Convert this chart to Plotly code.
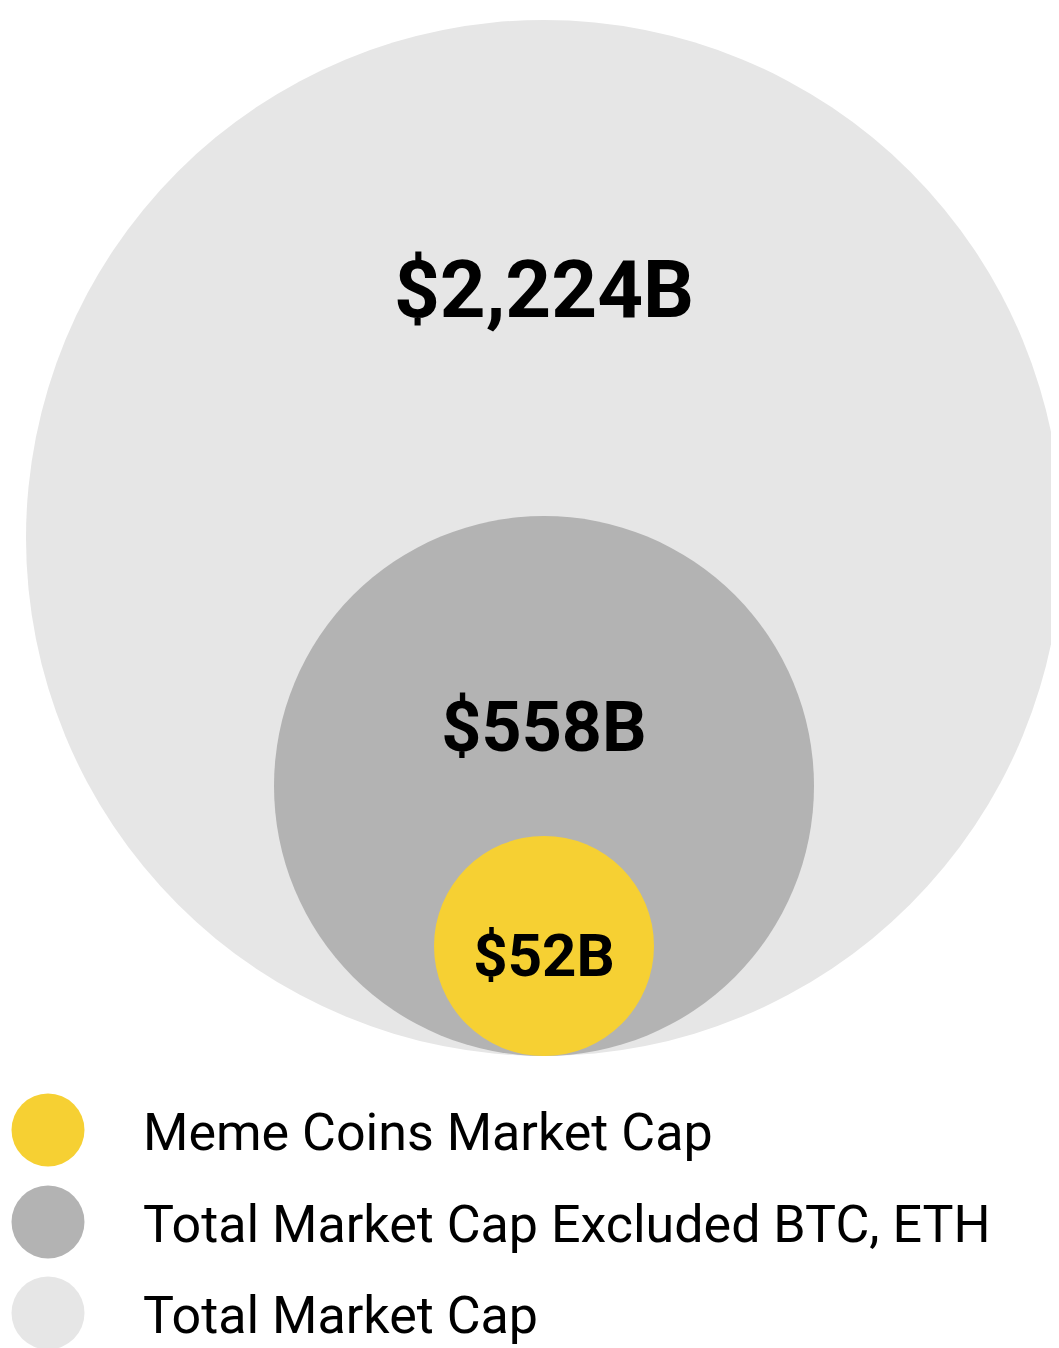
import plotly.graph_objects as go

# market caps, in billions of USD
labels = ["Total Market Cap", "Total Market Cap Excluded BTC, ETH", "Meme Coins Market Cap"]
values = [2224, 558, 52]
value_text = ["$2,224B", "$558B", "$52B"]
colors = ["#E6E6E6", "#B3B3B3", "#F6D033"]

# display radius for each nested circle (pixels in a 1059x1348 canvas)
radius = [518, 270, 110]
cx = 544
bottom = 1056
label_y = [297, 733, 961]
label_size = [80, 70, 60]

fig = go.Figure()

for r, c in zip(radius, colors):
    fig.add_shape(type="circle", xref="x", yref="y",
                  x0=cx - r, x1=cx + r, y0=bottom - 2 * r, y1=bottom,
                  fillcolor=c, line=dict(width=0), layer="below")

fig.add_trace(go.Scatter(
    x=[cx] * 3, y=label_y, mode="text", text=value_text,
    textfont=dict(family="Roboto", size=label_size, color="black", weight="bold"),
    hoverinfo="skip", showlegend=False))

# legend, drawn by hand (smallest first)
leg_y = [1130, 1222, 1313]
fig.add_trace(go.Scatter(
    x=[48] * 3, y=leg_y, mode="markers",
    marker=dict(size=73, color=colors[::-1], line=dict(width=0)),
    hoverinfo="skip", showlegend=False))
fig.add_trace(go.Scatter(
    x=[143] * 3, y=[v + 7 for v in leg_y], mode="text", text=labels[::-1],
    textposition="middle right",
    textfont=dict(family="Roboto", size=52, color="black"),
    hoverinfo="skip", showlegend=False))

# the page body has an 8px margin, so shift the axis ranges to compensate
fig.update_layout(
    width=1051, height=1340,
    margin=dict(l=0, r=0, t=0, b=0),
    paper_bgcolor="white", plot_bgcolor="white",
    xaxis=dict(range=[8, 1059], visible=False, fixedrange=True),
    yaxis=dict(range=[1348, 8], visible=False, fixedrange=True),
)

fig.write_html("out.html")
